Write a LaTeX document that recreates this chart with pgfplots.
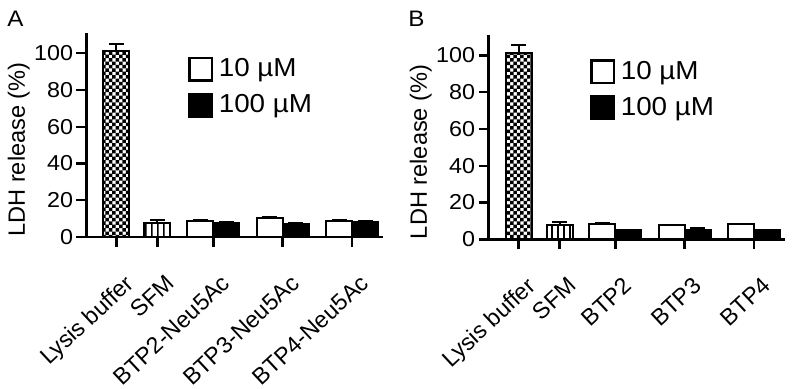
\documentclass[border=0pt]{standalone}
\usepackage{fontspec}
\setmainfont{Liberation Sans}
\newfontfamily\wide[FakeStretch=1.08]{Liberation Sans}
\newfontfamily\wideleg[FakeStretch=1.07]{Liberation Sans}
\usepackage{pgfplots}
\pgfplotsset{compat=1.18}
\usetikzlibrary{patterns}
\pgfdeclarepatternformonly{mychecker}{\pgfqpoint{-.1pt}{-.1pt}}{\pgfqpoint{3.5pt}{3.5pt}}{\pgfqpoint{3.4pt}{3.4pt}}{%
  \pgfpathrectangle{\pgfqpoint{0pt}{0pt}}{\pgfqpoint{1.75pt}{1.75pt}}%
  \pgfpathrectangle{\pgfqpoint{1.7pt}{1.7pt}}{\pgfqpoint{1.75pt}{1.75pt}}%
  \pgfusepath{fill}}
\pgfdeclarepatternformonly{myvlines}{\pgfqpoint{0pt}{0pt}}{\pgfqpoint{2.9pt}{2.9pt}}{\pgfqpoint{2.9pt}{2.9pt}}{%
  \pgfpathrectangle{\pgfqpoint{0pt}{-0.1pt}}{\pgfqpoint{0.9pt}{3.1pt}}%
  \pgfusepath{fill}}
\newcommand\tickfont{\wide\fontsize{10.8}{13}\selectfont}
\newcommand\legfont{\wideleg\fontsize{13}{15}\selectfont}
\newcommand\labfont{\fontsize{11.8}{14}\selectfont}
\newcommand\xlabfont{\fontsize{11.6}{14}\selectfont}
\pgfplotsset{
  panel/.style={
    scale only axis, width=148.25pt, height=102pt,
    xmin=0, xmax=296.5, ymin=0, ymax=111,
    axis x line*=bottom, axis y line*=left,
    axis line style={line width=1.2pt},
    every tick/.style={line width=1.2pt, black},
    major tick length=5pt, tick align=outside,
    ytick={0,20,...,100},
    /pgf/number format/assume math mode=true,
    yticklabel style={font=\tickfont, inner sep=0pt, xshift=-1.5pt},
    xticklabel style={font=\xlabfont, xshift=3.5pt, yshift=-13pt, rotate=43, anchor=north east, inner sep=0pt},
    ylabel={LDH release (\%)},
    ylabel style={font=\labfont, at={(rel axis cs:-0.19,0.429)}, anchor=south, rotate=0, inner sep=0pt},
    legend style={at={(rel axis cs:0.342,0.885)}, anchor=north west, draw=none, fill=none,
      inner sep=0pt, row sep=5.5pt, column sep=2.75pt, font=\legfont, nodes={inner sep=0pt}},
    legend cell align=left,
  },
  errs/.style={error bars/y dir=plus, error bars/y explicit,
    error bars/error bar style={line width=1pt, black},
    error bars/error mark options={rotate=90, mark size=3.75pt, line width=1pt, black}},
  white bar/.style={ybar, bar width=26, bar shift=0pt, fill=white, draw=black, line width=1pt, errs},
  black bar/.style={ybar, bar width=26, bar shift=0pt, fill=black, draw=black, line width=1pt, errs},
  check bar/.style={ybar, bar width=26, bar shift=0pt, fill=white, draw=black, line width=1pt,
    postaction={pattern=mychecker}, errs},
  line bar/.style={ybar, bar width=26, bar shift=0pt, fill=white, draw=black, line width=1pt,
    postaction={pattern=myvlines}, errs},
}
\begin{document}
\begin{tikzpicture}
\useasboundingbox (0,0) rectangle (396.5pt,194pt);
\node[anchor=base west, inner sep=0pt, font=\wide\fontsize{11.2}{13}\selectfont] at (3.5pt,181pt) {A};
\node[anchor=base west, inner sep=0pt, font=\wide\fontsize{11.2}{13}\selectfont] at (204pt,181pt) {B};
% Panel A
\begin{axis}[panel, at={(43.25pt,75.5pt)}, anchor=south west,
  xtick={30,71,126.8,196,265.5},
  xticklabels={Lysis buffer,SFM,BTP2-Neu5Ac,BTP3-Neu5Ac,BTP4-Neu5Ac}]
\addlegendimage{legend image code/.code={\draw[line width=1.2pt, fill=white] (0.6pt,-5.65pt) rectangle (11.9pt,5.65pt);}}
\addlegendentry{10 µM}
\addlegendimage{legend image code/.code={\draw[line width=1.2pt, fill=black] (0.6pt,-5.65pt) rectangle (11.9pt,5.65pt);}}
\addlegendentry{100 µM}
\addplot[forget plot, check bar] coordinates {(30,101) +- (0,4)};
\addplot[forget plot, line bar] coordinates {(71,7.5) +- (0,1.8)};
\addplot[forget plot, white bar] coordinates {(113.8,8.5) +- (0,0.8) (183,10.2) +- (0,0.8) (252.5,8.5) +- (0,0.5)};
\addplot[forget plot, black bar] coordinates {(139.8,7.8) +- (0,0.3) (209,7.3) +- (0,0.3) (278.5,8.2) +- (0,0.3)};
\end{axis}
% Panel B
\begin{axis}[panel, at={(244.25pt,74.35pt)}, anchor=south west,
  xtick={30,71,126.8,196,265.5},
  xticklabels={Lysis buffer,SFM,BTP2,BTP3,BTP4}]
\addlegendimage{legend image code/.code={\draw[line width=1.2pt, fill=white] (0.6pt,-5.65pt) rectangle (11.9pt,5.65pt);}}
\addlegendentry{10 µM}
\addlegendimage{legend image code/.code={\draw[line width=1.2pt, fill=black] (0.6pt,-5.65pt) rectangle (11.9pt,5.65pt);}}
\addlegendentry{100 µM}
\addplot[forget plot, check bar] coordinates {(30,101.5) +- (0,4)};
\addplot[forget plot, line bar] coordinates {(71,7.8) +- (0,1.5)};
\addplot[forget plot, white bar] coordinates {(113.8,8.5) +- (0,0.4) (183,7.6) +- (0,0.3) (252.5,8.2) +- (0,0.3)};
\addplot[forget plot, black bar] coordinates {(139.8,5) +- (0,0.3) (209,4.8) +- (0,1.3) (278.5,5) +- (0,0.3)};
\end{axis}
\end{tikzpicture}
\end{document}
